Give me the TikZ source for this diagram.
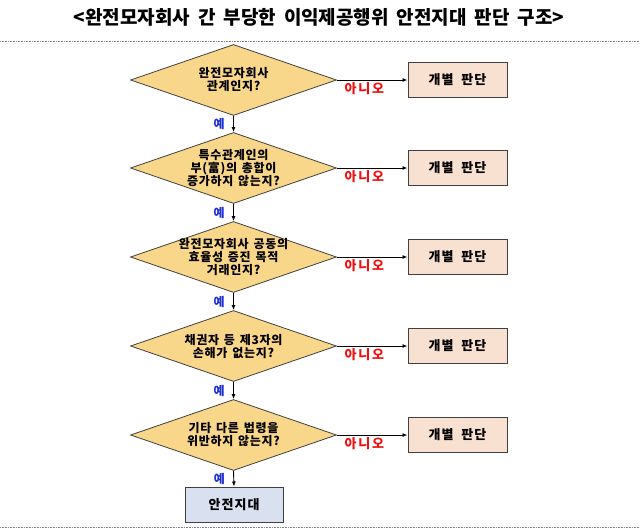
\documentclass[tikz,border=0pt]{standalone}
\usepackage{fontspec}
\setmainfont{Noto Sans CJK KR}
\usetikzlibrary{shapes.geometric,arrows.meta}
\definecolor{dfill}{HTML}{F9D78A}
\definecolor{bfill}{HTML}{F9E1D2}
\definecolor{sfill}{HTML}{D9E1F1}
\definecolor{edgeclr}{HTML}{404040}
\definecolor{yesclr}{HTML}{1F2FD0}
\definecolor{noclr}{HTML}{F01010}
\newcommand\mywsp[1]{\spaceskip #1\relax}
\begin{document}
\begin{tikzpicture}[x=1pt,y=-1pt,
  dec/.style={diamond, draw=edgeclr, fill=dfill, minimum width=206pt, minimum height=71pt, inner sep=0pt, line width=0.8pt},
  dtext/.style={font={\bfseries\fontsize{12}{13}\selectfont\addfontfeature{LetterSpace=6}\mywsp{0.4em}}, align=center, inner sep=0pt},
  judge/.style={rectangle, draw=edgeclr, fill=bfill, minimum width=99pt, minimum height=35pt, line width=1pt, inner sep=0pt, font={\bfseries\fontsize{13}{15}\selectfont\addfontfeature{LetterSpace=8}\mywsp{0.6em}}},
  safe/.style={rectangle, draw=edgeclr, fill=sfill, minimum width=98pt, minimum height=35pt, line width=1pt, inner sep=0pt, font={\bfseries\fontsize{13}{15}\selectfont\addfontfeature{LetterSpace=8}}},
  arr/.style={-{Latex[length=5pt,width=4pt]}, line width=0.9pt, black},
  yes/.style={text=yesclr, font={\bfseries\fontsize{12}{13}\selectfont}, inner sep=0pt},
  no/.style={text=noclr, font={\bfseries\fontsize{13}{14}\selectfont\addfontfeature{LetterSpace=14}}, inner sep=0pt},
  sep/.style={draw=gray, line width=0.6pt, dash pattern=on 0.8pt off 0.8pt}]
\useasboundingbox (0,0) rectangle (640,532);
\fill[white] (0,0) rectangle (640,532);

\node[font={\bfseries\fontsize{19}{22}\selectfont\mywsp{0.42em}}, inner sep=0pt] (title) at (319,17) {<완전모자회사 간 부당한 이익제공행위 안전지대 판단 구조>};
\coordinate (l1a) at (0,41); \coordinate (l1b) at (640,41);
\coordinate (l2a) at (0,527); \coordinate (l2b) at (640,527);
\draw[sep] (l1a) -- (l1b);
\draw[sep] (l2a) -- (l2b);

\node[dec, label={[dtext]center:완전모자회사\\관계인지?}] (d1) at (233.5,80) {};
\node[dec, label={[dtext]center:특수관계인의\\부(富)의 총합이\\증가하지 않는지?}] (d2) at (233.5,168) {};
\node[dec, label={[dtext]center:완전모자회사 공동의\\효율성 증진 목적\\거래인지?}] (d3) at (233.5,257) {};
\node[dec, label={[dtext]center:채권자 등 제3자의\\손해가 없는지?}] (d4) at (233.5,346) {};
\node[dec, label={[dtext]center:기타 다른 법령을\\위반하지 않는지?}] (d5) at (233.5,435) {};

\node[judge] (j1) at (457.5,80) {개별 판단};
\node[judge] (j2) at (457.5,168) {개별 판단};
\node[judge] (j3) at (457.5,257) {개별 판단};
\node[judge] (j4) at (457.5,346) {개별 판단};
\node[judge] (j5) at (457.5,435) {개별 판단};

\node[safe] (s) at (234,504.5) {안전지대};

\foreach \i in {1,...,5}{
  \draw[arr] (d\i.east) -- node[no, pos=0.39, anchor=north, yshift=-2.5pt] {아니오} (j\i.west);
}
\foreach \a/\b in {d1/d2,d2/d3,d3/d4,d4/d5}{
  \draw[arr] (\a.south) -- node[yes, anchor=east, xshift=-8.5pt] {예} (\b.north);
}
\draw[arr] (d5.south) -- node[yes, anchor=east, xshift=-8.5pt] {예} (s.north);
\end{tikzpicture}
\end{document}
